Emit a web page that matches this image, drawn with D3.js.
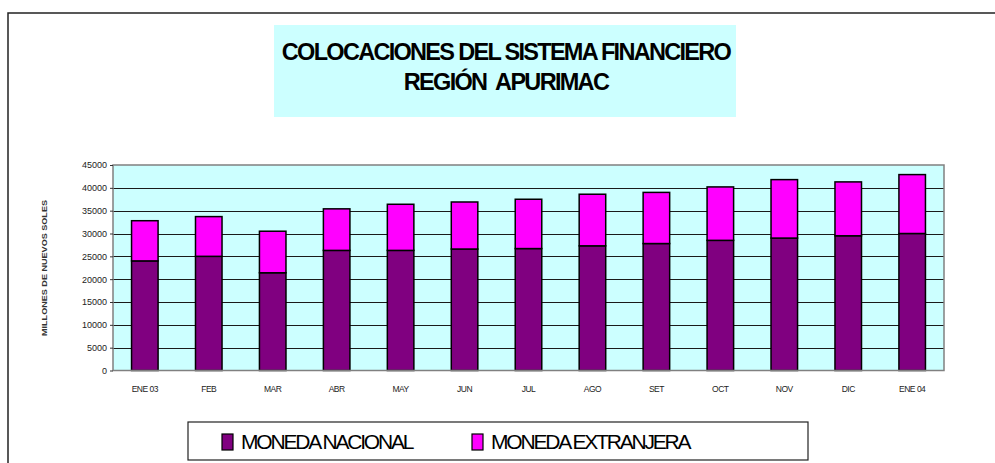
<!DOCTYPE html>
<html>
<head>
<meta charset="utf-8">
<script src="https://cdn.jsdelivr.net/npm/d3@7"></script>
<style>
  body { margin: 0; background: #fff; }
  svg text { font-family: "Liberation Sans", Arial, sans-serif; }
</style>
</head>
<body>
<svg id="chart" width="995" height="463"></svg>
<script>
// data
var months = ["ENE 03","FEB","MAR","ABR","MAY","JUN","JUL","AGO","SET","OCT","NOV","DIC","ENE 04"];
var nacional = [24000, 25000, 21400, 26300, 26300, 26600, 26700, 27300, 27800, 28500, 29000, 29500, 30000];
var extranjera = [8800, 8700, 9100, 9100, 10100, 10300, 10800, 11300, 11200, 11700, 12800, 11800, 12900];
var yTicks = [0, 5000, 10000, 15000, 20000, 25000, 30000, 35000, 40000, 45000];
var seriesNames = ["MONEDA NACIONAL", "MONEDA EXTRANJERA"];
var seriesColors = ["#800080", "#ff00ff"];

var svg = d3.select("#chart");

// outer frame
svg.append("rect")
    .attr("x", 8).attr("y", 13)
    .attr("width", 1000).attr("height", 500)
    .attr("fill", "none")
    .attr("stroke", "#222")
    .attr("stroke-width", 1.5);

// title box
svg.append("rect")
    .attr("x", 274).attr("y", 25)
    .attr("width", 462).attr("height", 92)
    .attr("fill", "#ccffff");
svg.append("text")
    .attr("x", 506).attr("y", 60)
    .attr("text-anchor", "middle")
    .style("font-size", "23.5px").style("font-weight", "bold")
    .style("letter-spacing", "-1.7px")
    .text("COLOCACIONES DEL SISTEMA FINANCIERO");
svg.append("text")
    .attr("x", 506).attr("y", 90)
    .attr("text-anchor", "middle")
    .style("font-size", "23.5px").style("font-weight", "bold")
    .style("letter-spacing", "-1.7px")
    .attr("xml:space", "preserve")
    .text("REGIÓN  APURIMAC");

var margin = {left: 113, top: 165, right: 944, bottom: 370.5};

var table = months.map(function(m, i) {
    return {month: m, nacional: nacional[i], extranjera: extranjera[i]};
});
var stacked = d3.stack().keys(["nacional", "extranjera"])(table);

var x = d3.scaleBand()
    .domain(months)
    .range([margin.left, margin.right])
    .paddingInner(0.585)
    .paddingOuter(0.29);

var y = d3.scaleLinear()
    .domain([0, 45000])
    .range([margin.bottom, margin.top]);

// plot background
svg.append("rect")
    .attr("x", margin.left).attr("y", margin.top)
    .attr("width", margin.right - margin.left)
    .attr("height", margin.bottom - margin.top)
    .attr("fill", "#ccffff");

// gridlines
svg.append("g")
    .selectAll("line")
    .data(yTicks.filter(function(t) { return t > 0 && t < 45000; }))
    .enter().append("line")
    .attr("x1", margin.left).attr("x2", margin.right)
    .attr("y1", function(d) { return Math.round(y(d)) + 0.5; })
    .attr("y2", function(d) { return Math.round(y(d)) + 0.5; })
    .attr("stroke", "#1a1a1a").attr("stroke-width", 1);

// bars
svg.append("g")
    .selectAll("g")
    .data(stacked)
    .enter().append("g")
    .attr("fill", function(d, i) { return seriesColors[i]; })
    .selectAll("rect")
    .data(function(d) { return d; })
    .enter().append("rect")
    .attr("x", function(d) { return x(d.data.month); })
    .attr("y", function(d) { return y(d[1]); })
    .attr("width", x.bandwidth())
    .attr("height", function(d) { return y(d[0]) - y(d[1]); })
    .attr("stroke", "#000")
    .attr("stroke-width", 1.5);

// plot border
svg.append("rect")
    .attr("x", margin.left).attr("y", margin.top)
    .attr("width", margin.right - margin.left)
    .attr("height", margin.bottom - margin.top)
    .attr("fill", "none")
    .attr("stroke", "#808080").attr("stroke-width", 1.5);

// y axis
var yAxis = svg.append("g")
    .attr("transform", "translate(" + margin.left + ",0)")
    .call(d3.axisLeft(y).tickValues(yTicks).tickFormat(d3.format("d")).tickSize(3).tickPadding(3));
yAxis.select(".domain").remove();
yAxis.selectAll("line").attr("stroke", "#333");
yAxis.selectAll("text")
    .style("font-size", "9px")
    .style("font-family", "Liberation Sans, Arial, sans-serif")
    .attr("fill", "#222");

// x axis labels
var xAxis = svg.append("g")
    .attr("transform", "translate(0," + margin.bottom + ")")
    .call(d3.axisBottom(x).tickSize(0).tickPadding(15));
xAxis.select(".domain").remove();
xAxis.selectAll("text")
    .style("font-size", "8.5px")
    .style("font-family", "Liberation Sans, Arial, sans-serif")
    .style("letter-spacing", "-0.5px")
    .attr("fill", "#222");

// y axis title (tiny, almost unreadable in the source)
svg.append("text")
    .attr("transform", "translate(47,268) rotate(-90)")
    .attr("text-anchor", "middle")
    .attr("textLength", 136)
    .attr("lengthAdjust", "spacingAndGlyphs")
    .style("font-size", "7px").style("font-weight", "bold")
    .attr("fill", "#333")
    .text("MILLONES DE NUEVOS SOLES");

// legend
svg.append("rect")
    .attr("x", 188).attr("y", 422)
    .attr("width", 620).attr("height", 38)
    .attr("fill", "#fff")
    .attr("stroke", "#222").attr("stroke-width", 1.2);

var legendX = [222, 472];
var legend = svg.append("g")
    .selectAll("g")
    .data(seriesNames)
    .enter().append("g")
    .attr("transform", function(d, i) { return "translate(" + legendX[i] + ",434)"; });
legend.append("rect")
    .attr("width", 11).attr("height", 16)
    .attr("fill", function(d, i) { return seriesColors[i]; })
    .attr("stroke", "#000").attr("stroke-width", 1.2);
legend.append("text")
    .attr("x", 19).attr("y", 15)
    .style("font-size", "21px")
    .style("letter-spacing", "-2.2px")
    .text(function(d) { return d; });
</script>
</body>
</html>
